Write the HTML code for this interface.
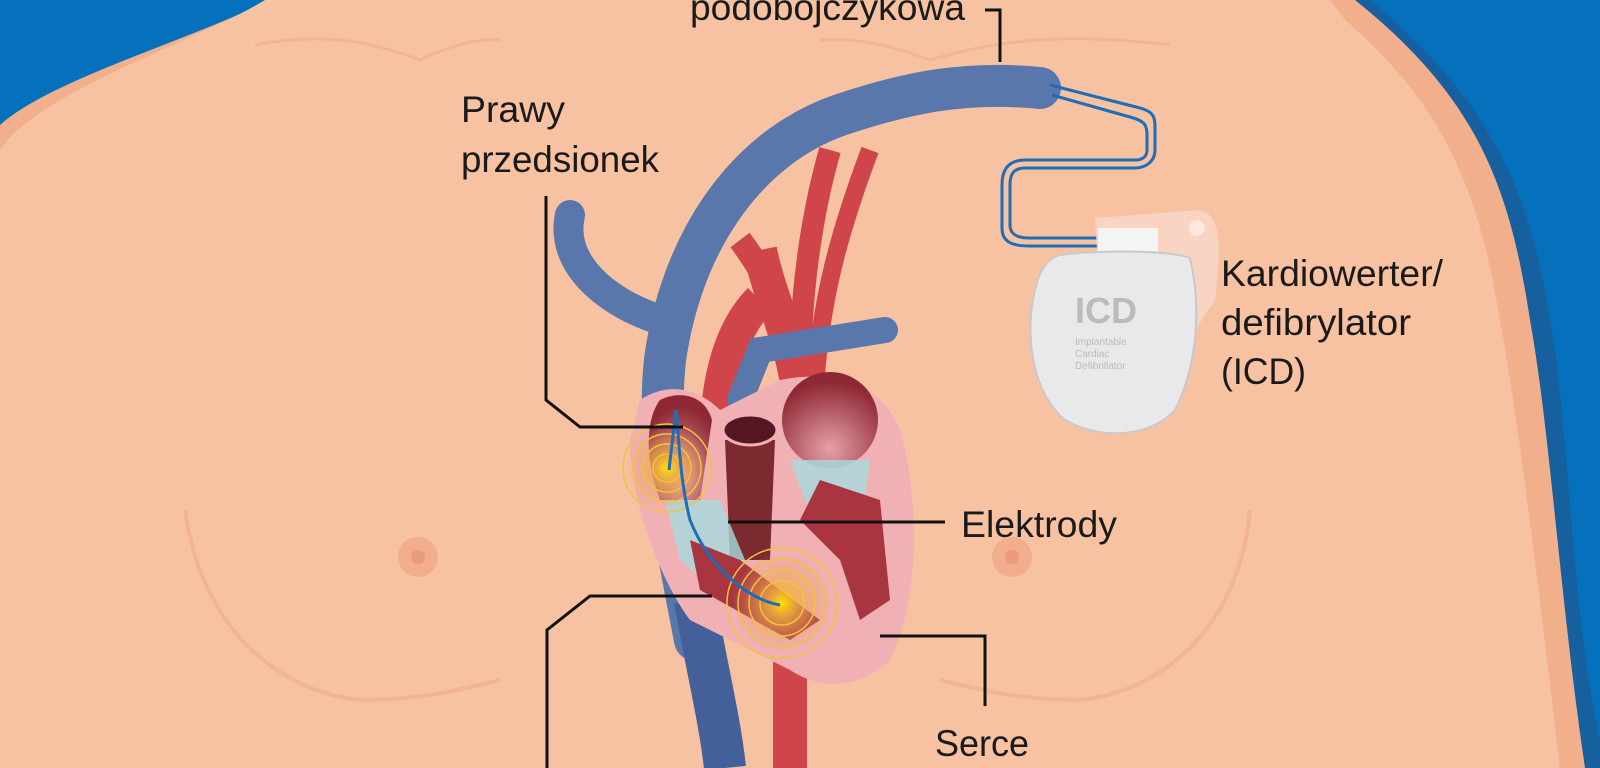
<!DOCTYPE html>
<html><head><meta charset="utf-8"><style>
html,body{margin:0;padding:0;width:1600px;height:768px;overflow:hidden;background:#f7c2a1}
svg{display:block}
text{font-family:"Liberation Sans Narrow","Liberation Sans",sans-serif;fill:#1a1a1a}
</style></head><body>
<svg width="1600" height="768" viewBox="0 0 1600 768" xmlns="http://www.w3.org/2000/svg">
<defs>
<radialGradient id="ch" cx="50%" cy="80%" r="70%"><stop offset="0" stop-color="#e6a0a6"/><stop offset="1" stop-color="#8e2834"/></radialGradient>
<radialGradient id="gl" cx="50%" cy="50%" r="50%"><stop offset="0" stop-color="#ffe000"/><stop offset=".3" stop-color="#f0b040" stop-opacity=".8"/><stop offset="1" stop-color="#e8a060" stop-opacity="0"/></radialGradient>
</defs>
<rect width="1600" height="768" fill="#0571bd"/>
<path d="M285,0 C200,40 60,80 0,140 L0,768 L1600,768 L1600,740 C1570,600 1570,430 1550,320 C1530,190 1490,100 1370,0 Z" fill="#17609f"/>
<path d="M270,0 C190,40 50,80 0,125 L0,768 L1585,768 C1560,600 1550,430 1530,320 C1510,190 1480,100 1355,0 Z" fill="#f2af8b"/>
<path d="M265,0 C200,40 40,90 0,150 L0,768 L1560,768 C1540,600 1520,430 1500,320 C1480,200 1450,110 1345,20 L1330,0 Z" fill="#f7c2a1"/>
<path d="M255,45 C330,30 380,45 420,60 C450,45 480,38 500,40" stroke="#f2b594" stroke-width="3" fill="none"/>
<path d="M820,40 C860,38 890,45 930,60 C980,45 1050,30 1170,45" stroke="#f2b594" stroke-width="3" fill="none"/>
<path d="M185,510 C200,620 270,690 360,700 C420,700 460,690 500,680" stroke="#f2b594" stroke-width="4" fill="none"/>
<path d="M1250,510 C1240,620 1170,690 1080,700 C1020,700 980,690 940,680" stroke="#f2b594" stroke-width="4" fill="none"/>
<circle cx="418" cy="557" r="20" fill="#f2ad8c"/><circle cx="418" cy="557" r="7" fill="#ea9c7c"/>
<circle cx="1012" cy="557" r="20" fill="#f2ad8c"/><circle cx="1012" cy="557" r="7" fill="#ea9c7c"/>
<path d="M790,768 L790,640 L820,620 L800,400 C790,330 770,300 760,250" stroke="#d0454a" stroke-width="34" fill="none"/>
<path d="M740,240 C770,280 790,320 800,400" stroke="#d0454a" stroke-width="24" fill="none"/>
<path d="M830,150 C810,220 800,300 800,380" stroke="#d0454a" stroke-width="22" fill="none"/>
<path d="M870,150 C840,230 820,300 815,390" stroke="#d0454a" stroke-width="18" fill="none"/>
<path d="M760,300 C720,340 710,420 720,500" stroke="#d0454a" stroke-width="34" fill="none"/>
<path d="M1040,88 C960,80 900,95 840,115 C740,150 680,250 665,360 C655,450 680,560 695,640" stroke="#5a77ac" stroke-width="42" fill="none" stroke-linecap="round"/>
<path d="M570,215 C560,260 600,300 660,320" stroke="#5a77ac" stroke-width="30" fill="none" stroke-linecap="round"/>
<path d="M695,600 C705,660 720,720 725,768" stroke="#44609a" stroke-width="42" fill="none"/>
<path d="M740,400 L760,350 L885,330" stroke="#5a77ac" stroke-width="26" fill="none" stroke-linecap="round"/>
<path d="M640,400 C670,380 700,390 720,410 L780,380 C830,370 880,380 900,430 C920,500 920,600 890,660 C860,690 820,690 790,670 L690,620 C660,580 630,500 630,440 Z" fill="#f1b0b3"/>
<path d="M660,400 C680,390 705,395 712,420 L700,500 L660,500 C645,460 645,420 660,400 Z" fill="url(#ch)"/>
<ellipse cx="830" cy="420" rx="48" ry="48" fill="url(#ch)"/>
<path d="M725,440 L775,440 L770,560 L730,560 Z" fill="#7c2a30"/>
<ellipse cx="750" cy="430" rx="27" ry="15" fill="#561624" stroke="#f1b0b3" stroke-width="3"/>
<path d="M665,500 L720,500 L745,560 L740,610 L680,560 Z" fill="#a6dbe0" opacity=".8"/>
<path d="M790,460 L870,460 L860,540 L820,540 Z" fill="#a6dbe0" opacity=".8"/>
<path d="M690,540 L740,560 L820,620 L790,640 L700,590 Z" fill="#a83540"/>
<path d="M820,480 L880,500 L890,600 L860,620 L840,560 L800,520 Z" fill="#a83540"/>
<circle cx="667" cy="468" r="42" fill="url(#gl)"/>
<g fill="none" stroke="#f3c23a" stroke-width="1.5"><circle cx="667" cy="468" r="44"/><circle cx="667" cy="468" r="34"/><circle cx="667" cy="468" r="24"/><circle cx="667" cy="468" r="14"/></g>
<circle cx="782" cy="603" r="50" fill="url(#gl)"/>
<g fill="none" stroke="#f3c23a" stroke-width="1.5"><circle cx="782" cy="603" r="55"/><circle cx="782" cy="603" r="44"/><circle cx="782" cy="603" r="33"/><circle cx="782" cy="603" r="22"/></g>
<path d="M676,410 C680,450 680,480 690,520 C710,570 750,600 780,605" stroke="#1d6db8" stroke-width="3" fill="none"/>
<path d="M676,410 L669,470" stroke="#1d6db8" stroke-width="3" fill="none"/>
<g fill="none" stroke="#1d6db8" stroke-width="3">
<path d="M1050,85 L1140,108 C1155,112 1155,118 1155,130 L1155,150 C1155,162 1145,168 1135,168 L1025,168 C1013,168 1010,175 1010,185 L1010,225 C1010,235 1018,238 1030,238 L1100,238"/>
<path d="M1052,95 L1130,117 C1145,121 1147,125 1147,135 L1147,150 C1147,157 1142,160 1135,160 L1025,160 C1008,160 1002,170 1002,185 L1002,228 C1002,242 1012,246 1030,246 L1100,246"/>
</g>
<path d="M1095,218 L1200,210 C1220,215 1222,240 1215,300 L1195,330 L1100,300 Z" fill="#f8d6c6" opacity=".9"/>
<circle cx="1197" cy="228" r="8" fill="#fbe8de"/>
<rect x="1098" y="228" width="60" height="25" fill="#f4f4f4"/>
<path d="M1060,255 C1100,250 1170,250 1190,258 C1200,300 1200,360 1175,410 C1150,438 1100,440 1065,420 C1030,390 1025,330 1035,290 C1040,268 1048,258 1060,255 Z" fill="#e9e9ec" stroke="#c9c9cc" stroke-width="2"/>
<text x="1075" y="323" font-size="36" font-weight="bold" style="fill:#bbb;font-family:'Liberation Sans',sans-serif">ICD</text>
<text x="1075" y="345" font-size="10" style="fill:#bbb;font-family:'Liberation Sans',sans-serif">Implantable</text>
<text x="1075" y="357" font-size="10" style="fill:#bbb;font-family:'Liberation Sans',sans-serif">Cardiac</text>
<text x="1075" y="369" font-size="10" style="fill:#bbb;font-family:'Liberation Sans',sans-serif">Defibrillator</text>
<g stroke="#111" stroke-width="3" fill="none">
<path d="M985,10 L1000,10 L1000,62"/>
<path d="M546,196 L546,400 L580,427 L683,427"/>
<path d="M728,522 L945,522"/>
<path d="M880,636 L985,636 L985,706"/>
<path d="M712,596 L590,596 L547,630 L547,768"/>
</g>
<text x="690" y="20" font-size="37" textLength="275" lengthAdjust="spacingAndGlyphs">podobojczykowa</text>
<text x="461" y="122" font-size="37" textLength="104" lengthAdjust="spacingAndGlyphs">Prawy</text>
<text x="461" y="172" font-size="37" textLength="198" lengthAdjust="spacingAndGlyphs">przedsionek</text>
<text x="1221" y="286" font-size="37" textLength="222" lengthAdjust="spacingAndGlyphs">Kardiowerter/</text>
<text x="1221" y="335" font-size="37" textLength="190" lengthAdjust="spacingAndGlyphs">defibrylator</text>
<text x="1221" y="384" font-size="37" textLength="85" lengthAdjust="spacingAndGlyphs">(ICD)</text>
<text x="961" y="537" font-size="37" textLength="156" lengthAdjust="spacingAndGlyphs">Elektrody</text>
<text x="935" y="756" font-size="37" textLength="94" lengthAdjust="spacingAndGlyphs">Serce</text>
</svg>
</body></html>
